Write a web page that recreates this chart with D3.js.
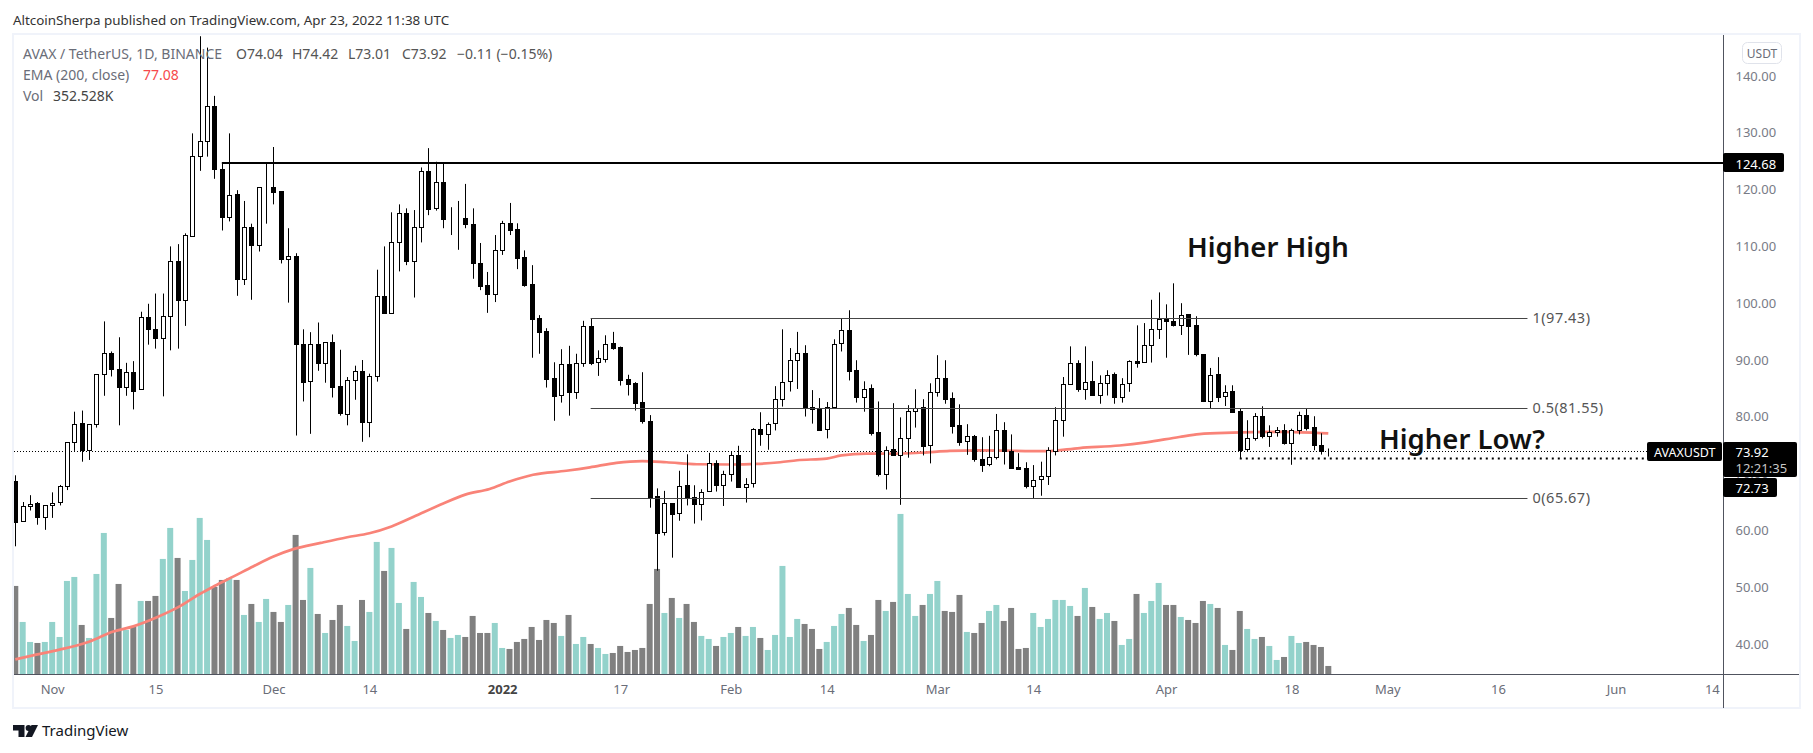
<!DOCTYPE html>
<html>
<head>
<meta charset="utf-8">
<script src="https://cdn.jsdelivr.net/npm/d3@7"></script>
<style>
    html, body { margin: 0; padding: 0; background: #fff; }
    svg { display: block; }
    text { font-family: "Noto Sans", sans-serif; }
</style>
</head>
<body>
<div id="chart"></div>
<script>
    // open, high, low, close, volume (K) - one row per day from 27 Oct 2021
    const rows = [
        [68.7,69.7,57.2,61.4,3737],[61.6,65,61.6,64.3,2214],[64.3,66.2,63.5,64.7,1368],[64.8,65,61,62.3,1325],
        [62.3,64.4,60.1,64.4,1368],[64.4,66.7,62.2,64.9,2214],[65,68,64.4,67.8,1579],[67.8,75.5,67.1,75.5,3948],
        [75.5,80.9,74,78.8,4117],[78.9,81.1,72.1,74.1,2087],[74.1,78.7,72.4,78.7,1537],[78.7,87.5,78.1,87.5,4244],
        [87.5,96.8,83.7,91.2,5978],[91.2,91.5,87.1,88.4,2383],[88.4,94,78.5,85.2,3821],[85.2,89.5,83.7,87.9,1875],
        [87.9,89.8,81.3,84.6,2002],[84.9,98.5,84.9,97.5,3102],[97.5,99.9,92.7,95.4,3102],[95.4,101.7,92,93.8,3314],
        [93.8,101.7,83.6,97.8,4879],[97.7,110,91.7,107.5,6190],[107.5,110.4,92,100.5,4921],[100.5,112.3,96,112,3525],
        [111.9,129.9,111.7,125.9,4836],[125.9,147,123.3,128.5,6613],[128.5,145,125.8,134.8,5682],[134.8,136.5,121.9,123.7,3694],
        [123.7,124.7,112.8,115.2,3990],[115.2,129.9,114.4,119.1,4075],[119.2,119.9,101.3,104.2,3990],[104.2,118,103.2,113.5,2510],
        [113.5,114,100.6,110.3,2975],[110.3,120.4,109.1,120.4,2214],[120.4,124.6,114,120.4,3187],[120.4,127.5,117.4,119.6,2637],
        [119.7,119.7,107,107.7,2214],[107.7,113.2,100.1,108.3,2933],[108.3,108.8,76.7,92.9,5894],[92.9,95.4,82.7,86.2,3144],
        [86.3,94.9,77,92.9,4498],[92.9,96.6,88.1,89.5,2552],[89.4,93.1,86,93.1,1748],[93.1,94.5,83.4,85.3,2298],
        [85.4,91.8,80.2,80.6,2933],[80.5,87,78.5,86.4,2045],[86.4,89,83,88.1,1410],[88.1,90,75.6,79.05,3144],
        [79.1,87.6,76.4,87.2,2637],[87.1,105.9,86.2,101.2,5598],[101.2,110,98.2,98.2,4371],[98.2,116,98.2,110.7,5344],
        [110.7,117.4,105.6,115.8,3017],[115.8,116.7,106.7,107.5,1918],[107.5,116.4,101,113.5,3906],[113.5,123.9,110.7,123.2,3271],
        [123.2,127.3,115.5,116.6,2594],[116.7,124.9,116.3,121.4,2256],[121.4,124.6,113.2,114.9,1875],[114.95,116.9,112,114.95,1537],
        [115,118,109.4,115,1664],[115,121,113.2,113.9,1579],[113.9,116.7,104.3,107,2468],[107,110.6,102.3,103.1,1748],
        [103.2,105.5,98.3,101.7,1748],[101.7,112,100.2,109.3,2171],[109.3,114.5,108.5,114.07,1114],[114.07,117.65,112,112.96,1072],
        [113,114.07,106,108,1368],[108.1,109.3,102.9,103.2,1495],[103.3,106.7,90.4,97.3,2002],[97.35,97.9,91.1,95,1452],
        [95.1,95.6,85.15,86.7,2298],[86.8,89.6,79.3,83.7,2171],[83.8,91.9,82.5,89.25,1622],[89.25,92.5,80.2,84.3,2510],
        [84.3,91.1,83.15,89.55,1283],[89.55,96.9,88.8,95.95,1579],[95.95,97.35,89.1,89.55,1283],[89.6,91.7,87.2,90.3,1114],
        [90.25,94.35,89.55,92.9,860],[92.95,94.95,91.8,92.2,902],[92.25,92.36,85.5,86.55,1199],[86.6,87.4,83.75,85.85,945],
        [85.9,86.1,81.1,82.5,1029],[82.6,87.85,78.8,79.2,1114],[79.2,80.3,64,65.96,2975],[66.1,67.4,52.9,59.6,4456],
        [59.7,66.96,59.1,64.8,2594],[64.8,64.8,55.2,62.97,3229],[63,70.5,61.7,67.9,2383],[67.95,73.4,64.4,65.67,2975],
        [65.85,67.95,61.2,64.56,2214],[64.56,67.25,61.75,66.84,1622],[66.9,73.65,66.9,71.8,1495],[71.85,72.35,66.84,67.95,1199],
        [67.95,70.5,64.3,69.85,1579],[69.9,73.8,68.6,73.2,1748],[73.2,74.9,67.55,67.7,2002],[67.7,69.2,64.9,68.25,1622],
        [68.3,78,67.55,77.8,2002],[77.8,80.8,74.9,76.9,1537],[76.95,79,74.2,78.8,1029],[78.9,85.4,77.6,83.1,1664],
        [83.2,95.4,81.8,86.2,4583],[86.25,92.1,84.45,89.95,1579],[89.95,94.95,84.9,91.2,2341],[91.2,92.6,80.05,81.55,2129],
        [81.7,84.7,78.8,81.35,1918],[81.4,83.3,77.5,77.75,1072],[77.8,82.6,76.2,81.8,1368],[81.8,93.65,81.5,92.9,2045],
        [92.95,97.35,91.5,95.2,2552],[95.25,98.76,86.4,88.15,2806],[88.2,89.96,82.5,83.55,2087],[83.55,86.25,80.9,84.97,1410],
        [85,85.7,76.7,77.2,1664],[77.3,82.7,69.5,70,3144],[70,74.8,67.2,74.2,2679],[74.3,82.4,73.35,73.35,3060],
        [73.35,79.9,64.5,76.35,6782],[76.35,82.05,72.8,81,3398],[81,84.85,78.1,81.6,2468],[81.7,83.1,73.2,74.9,2933],
        [75,85.9,71.8,84.45,3398],[84.45,90.85,83.55,86.8,3948],[86.8,89.96,82.3,83.2,2679],[83.3,84.3,77.05,78.45,2637],
        [78.5,82.2,74.9,75.65,3356],[75.7,78.7,73.3,76.6,1791],[76.6,76.8,72.1,72.5,1748],[72.5,76.4,70.3,71.6,2171],
        [71.65,76.65,71.3,72.9,2679],[73,80.5,72.5,77.6,2933],[77.65,79.05,71.6,73.9,2256],[73.95,76.9,70.9,71,2806],
        [71.1,73.6,70.65,70.85,1072],[70.95,72,67.4,67.9,1114],[67.9,71.5,65.67,68.95,2594],[69,72.1,66.1,69.65,2002],
        [69.65,74.65,68,74.1,2341],[73.9,81.7,73.2,79.4,3144],[79.4,87,76.5,85.7,3144],[85.75,92.4,85.75,89.4,2891],
        [89.45,89.95,84.4,84.85,2468],[84.85,92.4,83,86.2,3652],[86.25,89.8,83.75,83.9,2848],[83.9,87.3,82.3,85.9,2341],
        [85.9,88.2,83.75,87.4,2594],[87.5,87.8,82.3,83.4,2256],[83.4,86.8,82.5,85.85,1241],[85.9,89.95,84.4,89.8,1495],
        [89.8,96.1,88.65,89.55,3398],[89.6,96.5,89.5,92.7,2594],[92.7,100.6,89.55,95.5,3102],[95.5,101.9,93.7,97.3,3863],
        [97.3,99.8,90.4,96.8,2933],[96.85,103.5,95.9,96.25,2933],[96.25,100,94.4,98,2425],[98.05,98.05,90.9,96.05,2298],
        [96.1,97.7,90.65,91,2171],[91,91,82.6,82.8,3102],[82.85,88.6,81.5,87.4,2975],[87.5,90.5,82.6,83.55,2806],
        [83.6,85.55,81.9,84.45,1241],[84.5,85.55,80.75,80.85,1029],[81,81.45,72.75,74.2,2679],[74.25,79.4,73.9,76.25,1918],
        [76.2,80.65,75.8,80.1,1495],[80.15,81.85,76.2,76.65,1579],[76.7,78.5,74.7,77.4,1199],[77.35,78.2,76.5,77.65,606],
        [77.65,78.7,75.1,75.3,733],[75.35,77.9,71.55,77.65,1622],[77.65,80.9,76.9,80.3,1325],[80.3,81.4,77.6,78.05,1368],
        [78.15,80.1,74.1,74.95,1241],[75,77.1,73.35,74.03,1156],[74.04,74.42,73.01,73.92,352.5]
    ];

    const firstDay = new Date(Date.UTC(2021, 9, 27));
    const candles = rows.map((r, i) => ({
        date: d3.utcDay.offset(firstDay, i),
        open: r[0], high: r[1], low: r[2], close: r[3], volume: r[4]
    }));

    // EMA 200 read at a number of days along the curve: [day number, value]
    const ema = [
        [0,37.3],[2.4,38],[6,39],[10,40.4],[13.3,42.2],[16,43.1],[19.2,44.7],[22.4,46.7],[25,48.8],[27,50.2],
        [29.6,51.9],[32.3,53.7],[35,55.4],[37.7,56.7],[41.4,57.8],[45,58.8],[48,59.5],[51,60.7],[54,62.4],[57.6,64.5],
        [61,66.3],[64.3,67.3],[67,68.6],[70.2,69.8],[74.7,70.5],[77.9,71.1],[81.5,71.9],[85,72.2],[88.3,72],[92.4,71.65],
        [97,71.6],[100.5,71.7],[103.7,72],[106,72.35],[110,72.65],[112,73.2],[115.4,73.5],[118.6,73.5],[123,73.7],[126.7,74],
        [130.7,74.1],[139.7,73.95],[144.3,74.5],[149.7,74.95],[153.3,75.5],[157.8,76.45],[160.5,76.95],[165,77.2],[171.4,77.35],[178,77.08]
    ];

    const width = 1813, height = 753;
    const plot = { left: 14, right: 1723, top: 35, bottom: 674.5 };

    let svg = d3.select("#chart")
        .append("svg")
        .attr("width", width)
        .attr("height", height);

    var x = d3.scaleUtc()
        .domain([firstDay, d3.utcDay.offset(firstDay, 178)])
        .range([15.3, 1328.3]);

    var y = d3.scaleLinear()
        .domain([40, 140])
        .range([644, 76]);

    var yVol = d3.scaleLinear()
        .domain([0, 7050])
        .range([674.3, 507.6]);

    const crisp = v => Math.round(v) + 0.5;
    const day = (yr, m, d) => new Date(Date.UTC(yr, m, d));
    const dayNo = n => new Date(firstDay.getTime() + n * 864e5);

    // frame
    svg.append("rect")
        .attr("x", 13).attr("y", 34)
        .attr("width", 1787).attr("height", 674)
        .attr("fill", "#fff")
        .attr("stroke", "#f0f3fa")
        .attr("stroke-width", 2);

    svg.append("defs").append("clipPath").attr("id", "plot-clip")
        .append("rect")
        .attr("x", plot.left).attr("y", plot.top)
        .attr("width", plot.right - plot.left).attr("height", plot.bottom - plot.top);

    let group = svg.append("g").attr("clip-path", "url(#plot-clip)");

    // volume
    group.selectAll("rect.vol")
        .data(candles)
        .enter()
        .append("rect")
        .attr("class", "vol")
        .attr("x", d => x(d.date) - 3)
        .attr("width", 6)
        .attr("y", d => yVol(d.volume))
        .attr("height", d => yVol(0) - yVol(d.volume))
        .attr("fill", d => d.close >= d.open ? "#93d2cb" : "#808080");

    // last price line
    group.append("line")
        .attr("x1", plot.left).attr("x2", plot.right)
        .attr("y1", crisp(y(73.92))).attr("y2", crisp(y(73.92)))
        .attr("stroke", "#000")
        .attr("stroke-dasharray", "1,2");

    // ema
    group.append("path")
        .datum(ema)
        .attr("fill", "none")
        .attr("stroke", "#f98378")
        .attr("stroke-width", 2.7)
        .attr("d", d3.line()
            .x(d => x(dayNo(d[0])))
            .y(d => y(d[1]))
            .curve(d3.curveMonotoneX));

    // candles
    let candle = group.selectAll("g.candle")
        .data(candles)
        .enter()
        .append("g")
        .attr("class", "candle");

    candle.append("line")
        .attr("x1", d => crisp(x(d.date)))
        .attr("x2", d => crisp(x(d.date)))
        .attr("y1", d => y(d.high))
        .attr("y2", d => y(d.low))
        .attr("stroke", "#000");

    candle.append("rect")
        .attr("x", d => crisp(x(d.date)) - 2)
        .attr("width", 4)
        .attr("y", d => crisp(y(Math.max(d.open, d.close))))
        .attr("height", d => Math.abs(crisp(y(d.open)) - crisp(y(d.close))))
        .attr("fill", d => d.close >= d.open ? "#fff" : "#000")
        .attr("stroke", "#000");

    // resistance
    group.append("line")
        .attr("x1", x(day(2021, 10, 24))).attr("x2", plot.right)
        .attr("y1", y(124.68)).attr("y2", y(124.68))
        .attr("stroke", "#000")
        .attr("stroke-width", 2);

    // fib levels
    const fibs = [
        { level: 1, price: 97.43 },
        { level: 0.5, price: 81.55 },
        { level: 0, price: 65.67 }
    ];
    const fibStart = day(2022, 0, 13), fibEnd = day(2022, 4, 20);

    group.selectAll("line.fib")
        .data(fibs)
        .enter()
        .append("line")
        .attr("class", "fib")
        .attr("x1", x(fibStart)).attr("x2", x(fibEnd))
        .attr("y1", d => crisp(y(d.price))).attr("y2", d => crisp(y(d.price)))
        .attr("stroke", "#454545");

    svg.selectAll("text.fib")
        .data(fibs)
        .enter()
        .append("text")
        .attr("class", "fib")
        .attr("x", x(fibEnd) + 5)
        .attr("y", d => y(d.price) + 5)
        .attr("font-size", 14.5)
        .attr("letter-spacing", 0.5)
        .attr("fill", "#555")
        .text(d => d.level + "(" + d.price.toFixed(2) + ")");

    // higher low line
    group.append("line")
        .attr("x1", x(candles[166].date)).attr("x2", 1647)
        .attr("y1", crisp(y(72.73))).attr("y2", crisp(y(72.73)))
        .attr("stroke", "#000")
        .attr("stroke-width", 2)
        .attr("stroke-dasharray", "2,4");

    // axes
    const yAxis = d3.axisRight(y)
        .tickValues(d3.range(40, 141, 10))
        .tickSize(0)
        .tickPadding(12.5)
        .tickFormat(d3.format(".2f"));

    let yDisplay = svg.append("g")
        .attr("transform", "translate(1723,0)")
        .call(yAxis);
    yDisplay.select(".domain").remove();
    yDisplay.selectAll("text")
        .attr("font-size", 13)
        .attr("font-family", null)
        .attr("fill", "#787b86");

    const timeTicks = [
        [day(2021,10,1), "Nov"], [day(2021,10,15), "15"], [day(2021,11,1), "Dec"], [day(2021,11,14), "14"],
        [day(2022,0,1), "2022"], [day(2022,0,17), "17"], [day(2022,1,1), "Feb"], [day(2022,1,14), "14"],
        [day(2022,2,1), "Mar"], [day(2022,2,14), "14"], [day(2022,3,1), "Apr"], [day(2022,3,18), "18"],
        [day(2022,4,1), "May"], [day(2022,4,16), "16"], [day(2022,5,1), "Jun"], [day(2022,5,14), "14"]
    ];
    const labelFor = new Map(timeTicks.map(t => [t[0].getTime(), t[1]]));

    const xAxis = d3.axisBottom(x)
        .tickValues(timeTicks.map(t => t[0]))
        .tickSize(0)
        .tickPadding(11)
        .tickFormat(d => labelFor.get(d.getTime()));

    let xDisplay = svg.append("g")
        .attr("transform", "translate(0,674)")
        .call(xAxis);
    xDisplay.select(".domain").remove();
    xDisplay.selectAll("text")
        .attr("font-size", 13)
        .attr("font-family", null)
        .attr("font-weight", d => labelFor.get(d.getTime()) === "2022" ? 700 : 400)
        .attr("fill", d => labelFor.get(d.getTime()) === "2022" ? "#444" : "#6a6d78");

    svg.append("line")
        .attr("x1", 14).attr("x2", 1799)
        .attr("y1", 674.5).attr("y2", 674.5)
        .attr("stroke", "#50535e");
    svg.append("line")
        .attr("x1", 1723.5).attr("x2", 1723.5)
        .attr("y1", 35).attr("y2", 708)
        .attr("stroke", "#50535e");

    // price labels on the scale
    function priceBox(x0, y0, w, h, rx) {
        svg.append("rect")
            .attr("x", x0).attr("y", y0)
            .attr("width", w).attr("height", h)
            .attr("rx", rx)
            .attr("fill", "#000");
    }
    function boxText(x0, y0, str, fill, size) {
        svg.append("text")
            .attr("x", x0).attr("y", y0)
            .attr("font-size", size || 13)
            .attr("fill", fill)
            .text(str);
    }
    priceBox(1723, y(124.68) - 10, 61, 19, 2);
    boxText(1735.5, 169, "124.68", "#fff");
    priceBox(1647, 442, 75, 19, 2);
    boxText(1654, 456.5, "AVAXUSDT", "#fff", 12.5);
    priceBox(1723, 442, 74, 35, 2);
    boxText(1735.5, 457, "73.92", "#fff");
    boxText(1735.5, 473, "12:21:35", "#c8c8c8");
    priceBox(1723, 478, 54, 19, 2);
    boxText(1735.5, 493, y.invert(y(72.73)).toFixed(2), "#fff");

    // currency button
    svg.append("rect")
        .attr("x", 1742.5).attr("y", 42.5)
        .attr("width", 39).attr("height", 21)
        .attr("rx", 5)
        .attr("fill", "#fff")
        .attr("stroke", "#e0e3eb");
    svg.append("text")
        .attr("x", 1762).attr("y", 57.5)
        .attr("text-anchor", "middle")
        .attr("font-size", 12)
        .attr("fill", "#6a6d78")
        .text("USDT");

    // annotations
    svg.append("text")
        .attr("x", 1187).attr("y", 257)
        .attr("font-size", 27.5)
        .attr("font-weight", 600)
        .attr("fill", "#111")
        .text("Higher High");
    svg.append("text")
        .attr("x", 1379).attr("y", 449)
        .attr("font-size", 27.5)
        .attr("font-weight", 600)
        .attr("fill", "#111")
        .text("Higher Low?");

    // header
    svg.append("text")
        .attr("x", 13).attr("y", 25)
        .attr("font-size", 13.4)
        .attr("fill", "#333")
        .text("AltcoinSherpa published on TradingView.com, Apr 23, 2022 11:38 UTC");

    // legend
    const legend = [
        { x: 23, y: 59, t: "AVAX / TetherUS, 1D, BINANCE", c: "#6a6d78" },
        { x: 236, y: 59, t: "O74.04", c: "#555" },
        { x: 292, y: 59, t: "H74.42", c: "#555" },
        { x: 348, y: 59, t: "L73.01", c: "#555" },
        { x: 402, y: 59, t: "C73.92", c: "#555" },
        { x: 457, y: 59, t: "\u22120.11 (\u22120.15%)", c: "#555" },
        { x: 23, y: 80, t: "EMA (200, close)", c: "#6a6d78" },
        { x: 143, y: 80, t: "77.08", c: "#f6494b" },
        { x: 23, y: 101, t: "Vol", c: "#6a6d78" },
        { x: 53, y: 101, t: "352.528K", c: "#444" }
    ];
    svg.selectAll("text.legend")
        .data(legend)
        .enter()
        .append("text")
        .attr("class", "legend")
        .attr("x", d => d.x).attr("y", d => d.y)
        .attr("font-size", 14)
        .attr("fill", d => d.c)
        .text(d => d.t);

    // logo
    let logo = svg.append("g")
        .attr("transform", "translate(13,725)")
        .attr("fill", "#131722");
    logo.append("path").attr("d", "M0,0H11.5V12H5.5V5.5H0Z");
    logo.append("circle").attr("cx", 15.5).attr("cy", 3).attr("r", 2.9);
    logo.append("path").attr("d", "M25,0L19,12H12.5L18.5,0Z");
    svg.append("text")
        .attr("x", 42).attr("y", 736)
        .attr("font-size", 15)
        .attr("fill", "#131722")
        .text("TradingView");
</script>
</body>
</html>
